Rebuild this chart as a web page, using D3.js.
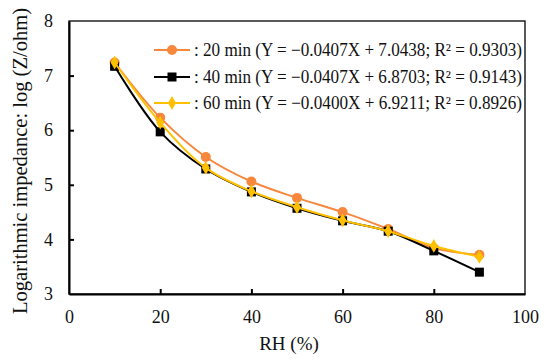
<!DOCTYPE html>
<html>
<head>
<meta charset="utf-8">
<script src="https://cdn.jsdelivr.net/npm/d3@7"></script>
<style>
body { margin: 0; background: #fff; }
text { font-family: "Times New Roman", Tinos, serif; fill: #111; }
</style>
</head>
<body>
<div id="chart"></div>
<script>
var rh = [10, 20, 30, 40, 50, 60, 70, 80, 90];
var min20 = [7.24, 6.23, 5.51, 5.06, 4.76, 4.50, 4.19, 3.84, 3.72];
var min40 = [7.17, 5.97, 5.29, 4.87, 4.57, 4.34, 4.15, 3.79, 3.40];
var min60 = [7.24, 6.14, 5.31, 4.88, 4.59, 4.35, 4.15, 3.88, 3.68];
var xTicks = [0, 20, 40, 60, 80, 100];
var yTicks = [3, 4, 5, 6, 7, 8];
var labels = [
    ": 20 min (Y = \u22120.0407X + 7.0438; R\u00b2 = 0.9303)",
    ": 40 min (Y = \u22120.0407X + 6.8703; R\u00b2 = 0.9143)",
    ": 60 min (Y = \u22120.0400X + 6.9211; R\u00b2 = 0.8926)"
];

var w = 550, h = 363;
var padL = 69, padR = 525, padT = 21, padB = 294;

var x = d3.scaleLinear().domain([0, 100]).range([padL, padR]);
var y = d3.scaleLinear().domain([3, 8]).range([padB, padT]);

var svg = d3.select("#chart").append("svg")
    .attr("width", w)
    .attr("height", h);

var series = [
    {vals: min20, color: "#F7873D", shape: "circle", label: labels[0]},
    {vals: min40, color: "#000000", shape: "square", label: labels[1]},
    {vals: min60, color: "#FFC000", shape: "diamond", label: labels[2]}
];

// frame (top + right thin)
svg.append("rect")
    .attr("x", padL).attr("y", padT)
    .attr("width", padR - padL).attr("height", padB - padT)
    .attr("fill", "none").attr("stroke", "#000").attr("stroke-width", 1.3);

var xaxis = d3.axisBottom(x).tickValues(xTicks).tickFormat(d3.format("d"))
    .tickSizeInner(-5).tickSizeOuter(0).tickPadding(16);
var gx = svg.append("g")
    .attr("transform", "translate(0," + padB + ")")
    .call(xaxis);
var yaxis = d3.axisLeft(y).tickValues(yTicks).tickFormat(d3.format("d"))
    .tickSizeInner(-5).tickSizeOuter(0).tickPadding(16);
var gy = svg.append("g")
    .attr("transform", "translate(" + padL + ",0)")
    .call(yaxis);
[gx, gy].forEach(function(g) {
    g.attr("font-family", null);
    g.select(".domain").attr("stroke", "#000").attr("stroke-width", 2);
    g.selectAll(".tick line").attr("stroke", "#000").attr("stroke-width", 2);
    g.selectAll(".tick text").attr("font-size", 18).attr("fill", "#111");
});
gx.selectAll(".tick").filter(function(d) { return d == 0 || d == 100; }).select("line").remove();
gy.selectAll(".tick").filter(function(d) { return d == 3 || d == 8; }).select("line").remove();

svg.append("text")
    .attr("x", 289).attr("y", 350)
    .attr("text-anchor", "middle").attr("font-size", 19)
    .text("RH (%)");
svg.append("text")
    .attr("transform", "translate(27,161) rotate(-90)")
    .attr("text-anchor", "middle").attr("font-size", 20)
    .attr("textLength", 306).attr("lengthAdjust", "spacingAndGlyphs")
    .text("Logarithmic impedance: log (Z/ohm)");

var line = d3.line()
    .x(function(d, i) { return x(rh[i]); })
    .y(function(d) { return y(d); })
    .curve(d3.curveCatmullRom.alpha(0.5));

function marker(g, shape, color, cx, cy) {
    if (shape == "circle") {
        g.append("circle").attr("cx", cx).attr("cy", cy).attr("r", 5).attr("fill", color);
    } else if (shape == "square") {
        g.append("rect").attr("x", cx - 4.5).attr("y", cy - 4.5).attr("width", 9).attr("height", 9).attr("fill", color);
    } else {
        g.append("path").attr("d", d3.symbol(d3.symbolDiamond, 55)()).attr("transform", "translate(" + cx + "," + cy + ")").attr("fill", color);
    }
}

series.forEach(function(s) {
    var g = svg.append("g");
    g.append("path")
        .attr("d", line(s.vals))
        .attr("fill", "none").attr("stroke", s.color).attr("stroke-width", 2);
    s.vals.forEach(function(v, i) {
        marker(g, s.shape, s.color, x(rh[i]), y(v));
    });
});

// legend
var ly = [50, 77, 103];
series.forEach(function(s, i) {
    var g = svg.append("g");
    g.append("line").attr("x1", 154).attr("x2", 190).attr("y1", ly[i]).attr("y2", ly[i])
        .attr("stroke", s.color).attr("stroke-width", 2);
    marker(g, s.shape, s.color, 172, ly[i]);
    g.append("text").attr("x", 194).attr("y", ly[i] + 6)
        .attr("font-size", 18).attr("textLength", 328).attr("lengthAdjust", "spacingAndGlyphs")
        .text(s.label);
});
</script>
</body>
</html>
